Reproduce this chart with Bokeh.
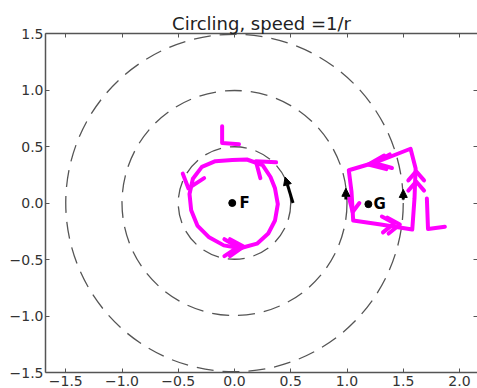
from bokeh.plotting import figure
from bokeh.models import (Range1d, FixedTicker, LinearAxis, Arrow, NormalHead,
                          ColumnDataSource)
from bokeh.core.properties import value
from bokeh.embed import file_html
from bokeh.resources import INLINE

# ---------------- data ----------------
title_text = "Circling, speed =1/r"

x_ticks = [-1.5, -1.0, -0.5, 0.0, 0.5, 1.0, 1.5, 2.0]
x_tick_labels = ["\u22121.5", "\u22121.0", "\u22120.5", "0.0", "0.5", "1.0", "1.5", "2.0"]
y_ticks = [-1.5, -1.0, -0.5, 0.0, 0.5, 1.0, 1.5]
y_tick_labels = ["\u22121.5", "\u22121.0", "\u22120.5", "0.0", "0.5", "1.0", "1.5"]

# dashed reference circles around F
circle_cx = [0.0, 0.0, 0.0]
circle_cy = [0.0, 0.0, 0.0]
circle_r = [0.5, 1.0, 1.5]

# speed arrows (speed = 1/r)
arrow_x0 = [0.52, 0.99, 1.50]
arrow_y0 = [0.00, 0.03, 0.03]
arrow_x1 = [0.45, 0.99, 1.50]
arrow_y1 = [0.23, 0.13, 0.12]

# labelled points
pt_x = [-0.02, 1.19]
pt_y = [0.0, -0.01]
pt_names = ["F", "G"]
name_x = [0.045, 1.235]
name_y = [0.0, -0.01]

# hand-drawn magenta loop around F
loop_x = [-0.02, 0.11, 0.25, 0.32, 0.36, 0.385, 0.36, 0.30, 0.20, 0.05, -0.095,
          -0.23, -0.33, -0.385, -0.40, -0.37, -0.29, -0.17, -0.02]
loop_y = [0.38, 0.385, 0.335, 0.23, 0.13, -0.01, -0.155, -0.27, -0.36, -0.40, -0.375,
          -0.30, -0.20, -0.065, 0.08, 0.215, 0.32, 0.37, 0.38]

# hand-drawn magenta loop around G
quad_x = [1.016, 1.27, 1.565, 1.61, 1.60, 1.58, 1.30, 1.055, 1.04, 1.016]
quad_y = [0.29, 0.365, 0.48, 0.305, 0.04, -0.235, -0.19, -0.155, 0.10, 0.29]

# magenta arrow-heads (chevrons) and "L" marks
marks_x = [
    [0.37, 0.19, 0.23],
    [-0.27, -0.41, -0.46],
    [-0.09, 0.03, -0.09],
    [-0.04, 0.08, -0.04],
    [1.33, 1.19, 1.35],
    [1.38, 1.24, 1.40],
    [1.545, 1.615, 1.685],
    [1.545, 1.615, 1.685],
    [1.31, 1.42, 1.32],
    [1.36, 1.47, 1.37],
    [1.02, 1.05, 1.11],
    [-0.11, -0.11, 0.04],
    [1.71, 1.72, 1.87],
]
marks_y = [
    [0.36, 0.37, 0.22],
    [0.22, 0.13, 0.26],
    [-0.32, -0.39, -0.47],
    [-0.32, -0.385, -0.47],
    [0.42, 0.34, 0.30],
    [0.43, 0.355, 0.31],
    [0.20, 0.28, 0.20],
    [0.11, 0.19, 0.11],
    [-0.12, -0.18, -0.26],
    [-0.13, -0.19, -0.27],
    [0.04, -0.08, 0.00],
    [0.68, 0.53, 0.52],
    [0.04, -0.23, -0.21],
]

TICK_FONT = "DejaVu Sans"

# ---------------- figure ----------------
p = figure(width=477, height=388,
           x_range=Range1d(-1.68, 2.16), y_range=Range1d(-1.5, 1.5),
           output_backend="svg", toolbar_location=None,
           min_border_left=45, min_border_top=33,
           min_border_bottom=0, min_border_right=0)
p.grid.visible = False
p.outline_line_color = None
p.background_fill_color = "white"
p.border_fill_color = "white"

p.title.text = title_text
p.title.text_font = "DejaVu Sans"
p.title.text_font_size = "18px"
p.title.text_font_style = "normal"
p.title.text_color = "#222222"
p.title.align = "center"
p.title.standoff = 0


def style_axis(ax, ticks, labels, show_labels=True, show_line=True, standoff=3):
    ax.ticker = FixedTicker(ticks=ticks)
    ax.major_label_overrides = {t: l for t, l in zip(ticks, labels)}
    ax.axis_line_color = "#555555" if show_line else None
    ax.axis_line_width = 1.5
    ax.major_tick_in = 4
    ax.major_tick_out = 0
    ax.major_tick_line_color = "#555555"
    ax.major_tick_line_width = 1
    ax.minor_tick_in = 0
    ax.minor_tick_out = 0
    ax.major_label_text_font = TICK_FONT
    ax.major_label_text_color = "#333333"
    ax.major_label_standoff = standoff
    ax.major_label_text_font_size = "14px" if show_labels else "0px"


style_axis(p.xaxis[0], x_ticks, x_tick_labels, standoff=3)
style_axis(p.yaxis[0], y_ticks, y_tick_labels, standoff=2)

top_axis = LinearAxis()
style_axis(top_axis, x_ticks, ["" for _ in x_ticks], show_labels=False, standoff=0)
p.add_layout(top_axis, "above")
right_axis = LinearAxis()
style_axis(right_axis, y_ticks, ["" for _ in y_ticks], show_labels=False,
           show_line=False, standoff=0)
p.add_layout(right_axis, "right")

# dashed circles
p.circle(x=circle_cx, y=circle_cy, radius=circle_r, fill_color=None,
         line_color="#555555", line_width=1.3, line_dash="17 9")

# magenta hand drawing
MAG = "#ff00ff"
p.line(loop_x, loop_y, line_color=MAG, line_width=4, line_join="round", line_cap="round")
p.line(quad_x, quad_y, line_color=MAG, line_width=4, line_join="round", line_cap="round")
p.multi_line(marks_x, marks_y, line_color=MAG, line_width=4,
             line_join="round", line_cap="round")

# speed arrows
arr_src = ColumnDataSource(dict(x0=arrow_x0, y0=arrow_y0, x1=arrow_x1, y1=arrow_y1))
p.add_layout(Arrow(x_start="x0", y_start="y0", x_end="x1", y_end="y1", source=arr_src,
                   line_width=3, line_color="black",
                   end=NormalHead(size=8, fill_color="black", line_color="black",
                                  line_width=1)))

# points and names
p.scatter(pt_x, pt_y, size=7, color="black")
p.text(x=name_x, y=name_y, text=pt_names, text_font=value("DejaVu Sans"),
       text_font_style="bold", text_font_size="15px", text_baseline="middle",
       text_color="black")

open("out.html", "w").write(file_html(p, INLINE))
